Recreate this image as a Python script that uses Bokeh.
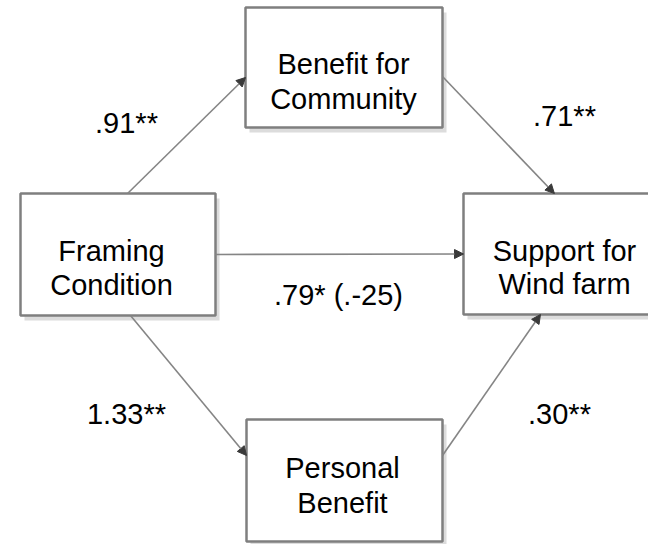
from bokeh.plotting import figure
from bokeh.models import ColumnDataSource, Range1d, Arrow, NormalHead
from bokeh.embed import file_html
from bokeh.resources import INLINE
from bokeh.core.properties import value

# ---------------- data ----------------
node_ids = ["framing", "community", "personal", "support"]
node_line1 = ["Framing", "Benefit for", "Personal", "Support for"]
node_line2 = ["Condition", "Community", "Benefit", "Wind farm"]

edge_from = ["framing", "community", "framing", "framing", "personal"]
edge_to = ["community", "support", "support", "personal", "support"]
edge_coef = [".91**", ".71**", ".79* (.-25)", "1.33**", ".30**"]

# ---------------- layout (page pixels) ----------------
box_left = {"framing": 20, "community": 245, "personal": 246, "support": 463}
box_right = {"framing": 215, "community": 442, "personal": 442, "support": 665}
box_top = {"framing": 193, "community": 7, "personal": 419, "support": 193}
box_bottom = {"framing": 315, "community": 127, "personal": 541, "support": 314}
text_cx = {"framing": 111, "community": 343, "personal": 342, "support": 564}
text_base1 = {"framing": 250, "community": 63, "personal": 467, "support": 250}
text_base2 = {"framing": 284, "community": 98, "personal": 502, "support": 283}

edge_start_side = ["top", "right", "right", "bottom", "right"]
edge_start_frac = [0.549, 0.575, 0.5, 0.564, 0.295]
edge_end_side = ["left", "top", "left", "left", "bottom"]
edge_end_frac = [0.583, 0.45, 0.5, 0.295, 0.381]

label_x = [126, 564, 338, 126, 559]
label_base = [122, 115, 294, 413, 413]

FONT = "Liberation Sans"
SIZE = "29px"


def anchor(node, side, frac):
    l, r, t, b = box_left[node], box_right[node], box_top[node], box_bottom[node]
    if side == "top":
        return l + frac * (r - l), t
    if side == "bottom":
        return l + frac * (r - l), b
    if side == "left":
        return l, t + frac * (b - t)
    return r, t + frac * (b - t)


p = figure(width=648, height=544, output_backend="svg", toolbar_location=None,
           x_range=Range1d(0, 648), y_range=Range1d(544, 0),
           x_axis_type=None, y_axis_type=None, min_border=0)
p.grid.visible = False
p.outline_line_color = None
p.background_fill_color = "white"
p.border_fill_color = "white"

# boxes
shadow = ColumnDataSource(dict(
    left=[box_left[n] + 4 for n in node_ids],
    right=[box_right[n] + 4 for n in node_ids],
    top=[box_top[n] + 5 for n in node_ids],
    bottom=[box_bottom[n] + 5 for n in node_ids],
))
p.quad(left="left", right="right", top="top", bottom="bottom", source=shadow,
       fill_color="#dcdcdc", line_color=None)

boxes = ColumnDataSource(dict(
    left=[box_left[n] for n in node_ids],
    right=[box_right[n] for n in node_ids],
    top=[box_top[n] for n in node_ids],
    bottom=[box_bottom[n] for n in node_ids],
))
p.quad(left="left", right="right", top="top", bottom="bottom", source=boxes,
       fill_color="white", line_color="#7f7f7f", line_width=2.5)

# node texts
txt = ColumnDataSource(dict(
    x=[text_cx[n] for n in node_ids] * 2,
    y=[text_base1[n] for n in node_ids] + [text_base2[n] for n in node_ids],
    t=node_line1 + node_line2,
))
p.text(x="x", y="y", text="t", source=txt, text_align="center",
       text_baseline="alphabetic", text_font=value(FONT),
       text_font_size=SIZE, text_color="#000000")

# edges
xs, ys, xe, ye = [], [], [], []
for f, t, ss, sf, es, ef in zip(edge_from, edge_to, edge_start_side,
                                edge_start_frac, edge_end_side, edge_end_frac):
    x0, y0 = anchor(f, ss, sf)
    x1, y1 = anchor(t, es, ef)
    xs.append(x0); ys.append(y0); xe.append(x1); ye.append(y1)
edges = ColumnDataSource(dict(x_start=xs, y_start=ys, x_end=xe, y_end=ye))
p.add_layout(Arrow(source=edges, x_start="x_start", y_start="y_start",
                   x_end="x_end", y_end="y_end",
                   line_color="#858585", line_width=1.6,
                   end=NormalHead(size=9, fill_color="#3a3a3a",
                                  line_color="#3a3a3a", line_width=1)))

# coefficient labels
lab = ColumnDataSource(dict(x=label_x, y=label_base, t=edge_coef))
p.text(x="x", y="y", text="t", source=lab, text_align="center",
       text_baseline="alphabetic", text_font=value(FONT),
       text_font_size=SIZE, text_color="#000000")

open("out.html", "w").write(file_html(p, INLINE))
